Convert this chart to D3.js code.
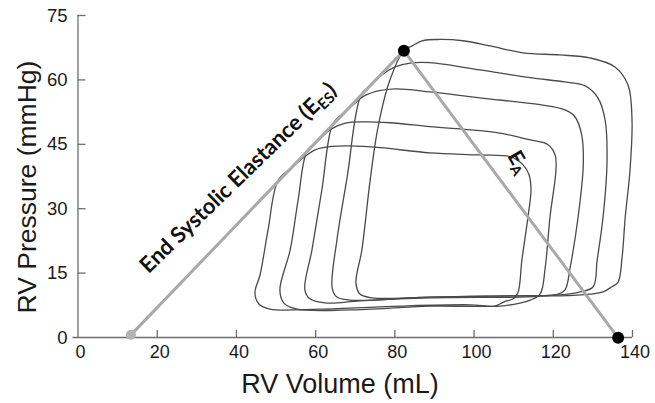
<!DOCTYPE html>
<html><head><meta charset="utf-8">
<script src="https://cdn.jsdelivr.net/npm/d3@7"></script>
<style>
html,body{margin:0;padding:0;background:#fff;}
svg{display:block;}
</style></head>
<body>
<svg id="chart" width="655" height="403"></svg>
<script>
// ---- data (volume mL, pressure mmHg) ----
const xTicks = [0, 20, 40, 60, 80, 100, 120, 140];
const yTicks = [0, 15, 30, 45, 60, 75];
const xTitle = "RV Volume (mL)";
const yTitle = "RV Pressure (mmHg)";

const loopA = [[50.6,36.4],[48.1,24.9],[46.1,14.5],[44.8,10.3],[45.8,7.7],[48.6,6.5],[61.2,6.5],[81.4,7.2],[99.1,7.5],[105.4,7.2],[107.7,8.2],[110.0,8.9],[111.2,10.3],[112.2,17.9],[113.8,28.4],[114.5,34.3],[114.0,37.8],[112.5,40.1],[109.2,42.0],[101.6,42.4],[89.0,42.9],[76.4,44.1],[68.8,44.5],[64.3,44.4],[60.0,43.6],[56.7,41.5],[53.7,39.2]];
const loopB = [[58.0,43.4],[55.7,31.9],[53.7,20.3],[51.1,11.0],[52.1,7.9],[55.4,6.5],[68.8,6.3],[89.0,7.2],[106.7,7.2],[111.7,7.9],[114.3,8.6],[116.8,10.0],[118.1,16.3],[119.3,28.0],[120.8,38.9],[120.6,42.4],[118.8,44.8],[114.3,45.9],[105.9,47.6],[89.0,49.0],[78.9,49.9],[72.6,50.1],[67.6,49.8],[63.8,48.3],[60.7,45.7]];
const loopC = [[64.5,49.7],[61.7,34.3],[59.2,20.3],[57.4,11.0],[58.7,8.9],[63.0,7.9],[71.3,8.4],[89.0,9.1],[111.7,9.3],[118.1,9.6],[121.3,10.0],[123.1,11.0],[124.4,16.3],[126.4,28.0],[127.7,40.1],[127.3,47.1],[125.6,51.3],[123.1,52.9],[116.8,54.1],[101.6,55.7],[89.0,57.1],[80.2,57.8],[75.9,57.3],[72.3,56.1],[69.6,54.1],[67.0,52.0]];
const loopD = [[71.6,56.4],[68.1,37.3],[65.5,22.6],[64.3,11.4],[65.5,9.3],[68.8,8.6],[89.0,9.3],[111.7,9.6],[121.8,9.8],[126.9,10.5],[130.2,11.7],[131.2,17.9],[132.7,28.0],[133.7,41.3],[133.2,50.6],[131.4,55.7],[128.2,58.5],[123.1,59.4],[114.3,60.4],[101.6,62.2],[89.0,63.9],[84.0,63.8],[80.2,62.9],[76.9,61.1],[74.1,58.7]];
const loopE = [[82.4,66.7],[78.9,59.9],[75.9,49.0],[73.9,36.6],[71.8,20.3],[70.3,12.6],[71.3,10.0],[74.4,9.1],[89.0,9.3],[111.7,9.6],[121.8,9.6],[129.4,10.0],[132.7,10.5],[134.9,11.7],[136.5,12.8],[137.5,18.6],[138.3,28.0],[139.5,38.9],[140.0,50.6],[139.0,58.7],[135.7,62.9],[129.4,65.0],[121.8,65.7],[112.5,66.2],[104.2,67.8],[97.3,69.0],[91.5,69.3],[87.0,69.0],[84.5,67.8]];
const loops = [loopA, loopB, loopC, loopD, loopE];

const espvr = [[13.5, 0.5], [82.4, 66.7]];   // V0 -> end-systolic point
const eaLine = [[82.4, 66.7], [136.5, -0.2]]; // end-systolic point -> EDV
const espvrLabel = {main: "End Systolic Elastance (E", sub: "ES", tail: ")"};
const eaLabel = {main: "E", sub: "A"};

// ---- drawing ----
const svg = d3.select("#chart");
const x = d3.scaleLinear().domain([0, 140]).range([77.5, 632]);
const y = d3.scaleLinear().domain([0, 75]).range([337, 15]);

const axisColor = "#6e6e6e";
const numFont = "Liberation Sans, Arial, sans-serif";
// x axis
const gx = svg.append("g").attr("transform", `translate(0,${y(0)})`)
  .call(d3.axisBottom(x).tickValues(xTicks.slice(1)).tickSize(-7).tickSizeOuter(0));
gx.select(".domain").attr("d", `M${x(0)-5},0.5H${x(140)}`).attr("stroke", axisColor).attr("stroke-width", 1.3);
gx.selectAll(".tick line").attr("stroke", axisColor).attr("stroke-width", 1.3);
gx.selectAll(".tick text").remove();
svg.append("g").selectAll("text").data(xTicks).join("text")
  .attr("x", d => x(d) + 3).attr("y", y(0) + 21)
  .attr("text-anchor", "middle")
  .style("font-family", numFont).style("font-size", "18px").attr("fill", "#1a1a1a")
  .text(d => d);

// y axis
const gy = svg.append("g").attr("transform", `translate(${x(0)},0)`)
  .call(d3.axisLeft(y).tickValues(yTicks.slice(1)).tickSize(-8).tickSizeOuter(0));
gy.select(".domain").attr("d", `M0.5,${y(75)}V${y(0)}`).attr("stroke", axisColor).attr("stroke-width", 1.3);
gy.selectAll(".tick line").attr("stroke", axisColor).attr("stroke-width", 1.3);
gy.selectAll(".tick text").remove();
svg.append("g").selectAll("text").data(yTicks).join("text")
  .attr("x", x(0) - 10).attr("y", d => y(d) + 6.5)
  .attr("text-anchor", "end")
  .style("font-family", numFont).style("font-size", "18.5px").attr("fill", "#1a1a1a")
  .text(d => d);

// titles
svg.append("text").attr("x", 340).attr("y", 393).attr("text-anchor", "middle")
  .style("font-family", numFont).style("font-size", "27px").attr("fill", "#1a1a1a")
  .text(xTitle);
svg.append("text").attr("transform", "translate(36,187) rotate(-90)").attr("text-anchor", "middle")
  .style("font-family", numFont).style("font-size", "26.5px").attr("fill", "#1a1a1a")
  .text(yTitle);

// loops
const loopLine = d3.line().x(d => x(d[0])).y(d => y(d[1])).curve(d3.curveCatmullRomClosed.alpha(0.5));
svg.append("g").selectAll("path").data(loops).join("path")
  .attr("d", loopLine).attr("fill", "none").attr("stroke", "#4a4a4a").attr("stroke-width", 1.3);

// ESPVR and Ea lines
const straight = d3.line().x(d => x(d[0])).y(d => y(d[1]));
svg.append("path").attr("d", straight(espvr)).attr("stroke", "#a9a9a9").attr("stroke-width", 3).attr("fill", "none");
svg.append("path").attr("d", straight(eaLine)).attr("stroke", "#a9a9a9").attr("stroke-width", 3).attr("fill", "none");

// dots
svg.append("circle").attr("cx", x(espvr[0][0])).attr("cy", y(espvr[0][1])).attr("r", 5).attr("fill", "#b3b3b3");
svg.append("circle").attr("cx", x(espvr[1][0])).attr("cy", y(espvr[1][1])).attr("r", 6).attr("fill", "#000");
svg.append("circle").attr("cx", x(eaLine[1][0])).attr("cy", y(eaLine[1][1])).attr("r", 6).attr("fill", "#000");

// labels
const lblFont = "Lato, 'Open Sans', sans-serif";
const t1 = svg.append("text").attr("transform", "translate(243,183) rotate(-44)").attr("text-anchor", "middle")
  .style("font-family", lblFont).style("font-weight", "bold").style("font-size", "22px").attr("fill", "#111");
t1.append("tspan").text(espvrLabel.main);
t1.append("tspan").attr("dy", 4).style("font-size", "15px").text(espvrLabel.sub);
t1.append("tspan").attr("dy", -4).text(espvrLabel.tail);

const t2 = svg.append("text").attr("transform", "translate(507,156) rotate(60)")
  .style("font-family", lblFont).style("font-weight", "bold").style("font-size", "21px").attr("fill", "#111");
t2.append("tspan").text(eaLabel.main);
t2.append("tspan").attr("dy", 4).style("font-size", "14px").text(eaLabel.sub);
</script>
</body></html>
